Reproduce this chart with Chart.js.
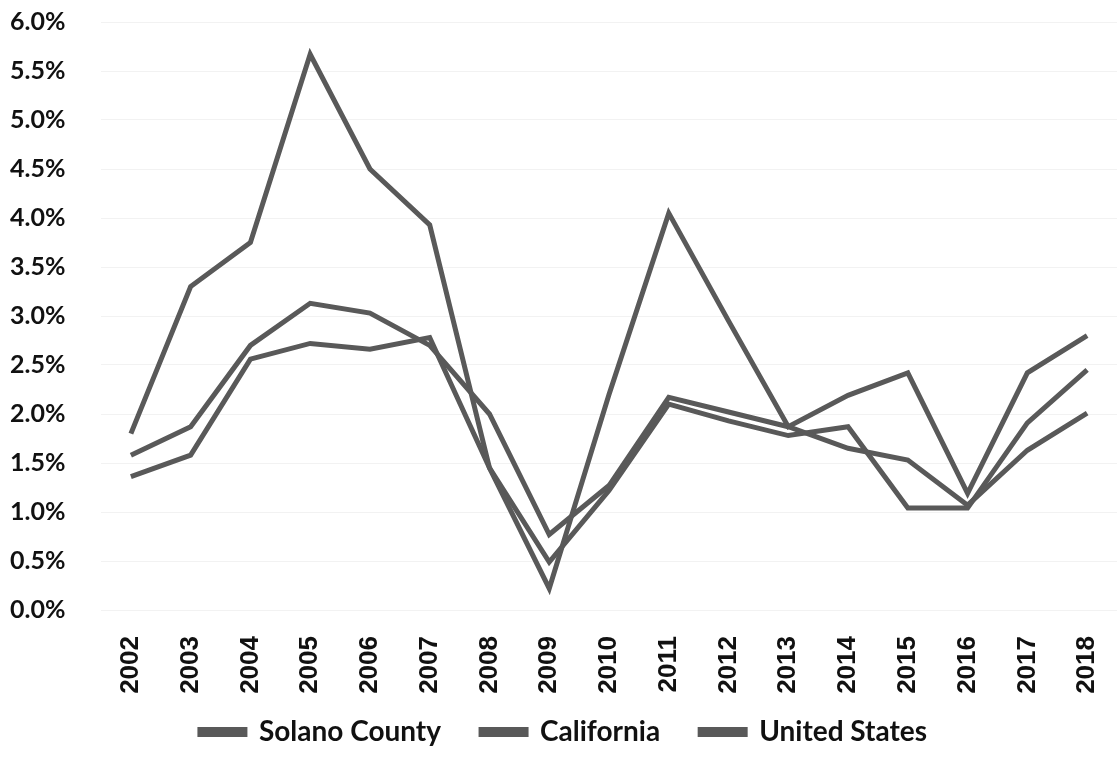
<!DOCTYPE html>
<html>
<head>
<meta charset="utf-8">
<script src="https://cdn.jsdelivr.net/npm/chart.js@4.4.0/dist/chart.umd.min.js"></script>
<style>
    body { margin: 0; background: #fff; }
</style>
</head>
<body>
<canvas id="growth-chart" width="1117" height="767"></canvas>
<script>
// Data (percent)
const years = ["2002", "2003", "2004", "2005", "2006", "2007", "2008", "2009", "2010",
    "2011", "2012", "2013", "2014", "2015", "2016", "2017", "2018"];

const solanoCounty = [1.8, 3.3, 3.75, 5.67, 4.5, 3.93, 1.45, 0.22, 2.2,
    4.05, 2.95, 1.87, 2.19, 2.42, 1.19, 2.42, 2.8];
const california = [1.58, 1.87, 2.7, 3.13, 3.03, 2.7, 2.0, 0.77, 1.27,
    2.17, 2.02, 1.87, 1.65, 1.53, 1.07, 1.63, 2.01];
const unitedStates = [1.36, 1.58, 2.56, 2.72, 2.66, 2.78, 1.45, 0.49, 1.22,
    2.1, 1.93, 1.78, 1.87, 1.04, 1.04, 1.91, 2.45];

const yTicks = [0, 0.5, 1, 1.5, 2, 2.5, 3, 3.5, 4, 4.5, 5, 5.5, 6];

const lineColor = "#595959";

function makeSet(label, data) {
    return {
        label: label,
        data: data,
        borderColor: lineColor,
        backgroundColor: lineColor,
        borderWidth: 5,
        pointRadius: 0,
        tension: 0,
        fill: false,
    };
}

// fixed legend height so the plot area keeps the same size as the picture,
// then pull the legend up a bit (its padding is also the gap between items)
const legendFit = {
    id: "legendFit",
    beforeInit(chart) {
        const origFit = chart.legend.fit;
        chart.legend.fit = function () {
            origFit.bind(chart.legend)();
            this.height = 72;
        };
    },
    afterLayout(chart) {
        chart.legend.top -= 17;
        chart.legend.bottom -= 17;
    },
};

var ctx = document.getElementById("growth-chart").getContext("2d");

var chart = new Chart(ctx, {
    type: "line",
    data: {
        labels: years,
        datasets: [
            makeSet("Solano County", solanoCounty),
            makeSet("California", california),
            makeSet("United States", unitedStates),
        ],
    },
    options: {
        responsive: false,
        devicePixelRatio: 1,
        animation: false,
        layout: {
            padding: { left: 10, right: 0, top: 22, bottom: 0 },
        },
        scales: {
            x: {
                offset: true,
                grid: { display: false },
                border: { display: false },
                ticks: {
                    color: "#111",
                    minRotation: 90,
                    maxRotation: 90,
                    padding: 18,
                    font: { family: "Liberation Sans", weight: "bold", size: 26 },
                },
                afterFit: (axis) => {
                    axis.paddingLeft = 0;
                    axis.paddingRight = 0;
                    axis.height = 85;
                },
            },
            y: {
                min: 0,
                max: 6,
                afterBuildTicks: (axis) => {
                    axis.ticks = yTicks.map((v) => ({ value: v }));
                },
                afterFit: (axis) => {
                    axis.paddingTop = 0;
                    axis.paddingBottom = 0;
                    axis.width = 91;
                },
                grid: { color: "rgba(0,0,0,0.05)", drawTicks: false },
                border: { display: false },
                ticks: {
                    color: "#111",
                    crossAlign: "far",
                    font: { family: "Lato", weight: "bold", size: 25 },
                    callback: (v) => v.toFixed(1) + "%",
                },
            },
        },
        plugins: {
            tooltip: { enabled: false },
            legend: {
                position: "bottom",
                labels: {
                    color: "#111",
                    boxWidth: 45,
                    boxHeight: 5,
                    padding: 40,
                    font: { family: "Lato", weight: "bold", size: 28 },
                },
            },
        },
    },
    plugins: [legendFit],
});
</script>
</body>
</html>
